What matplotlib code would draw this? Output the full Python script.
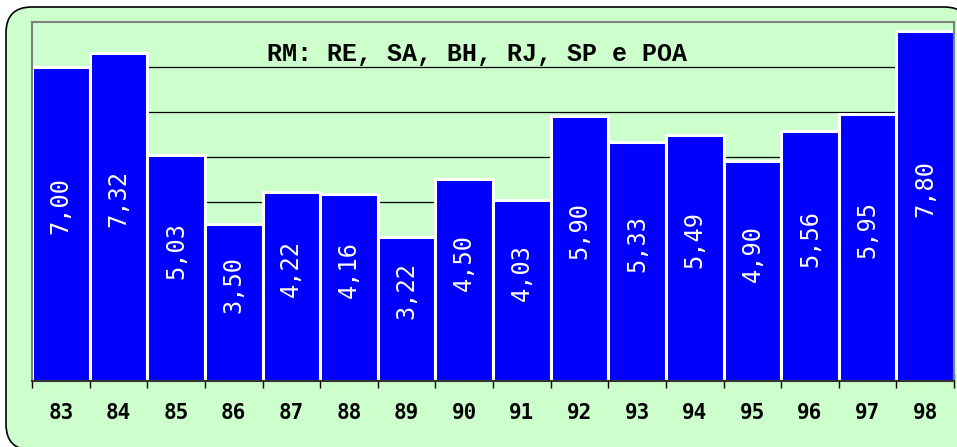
import matplotlib
matplotlib.use("Agg")
import matplotlib.pyplot as plt
from matplotlib.patches import FancyBboxPatch

# ── Data ──────────────────────────────────────────────────────────────────────
years  = ["83", "84", "85", "86", "87", "88", "89", "90",
          "91", "92", "93", "94", "95", "96", "97", "98"]
values = [7.00, 7.32, 5.03, 3.50, 4.22, 4.16, 3.22, 4.50,
          4.03, 5.90, 5.33, 5.49, 4.90, 5.56, 5.95, 7.80]
title  = "RM: RE, SA, BH, RJ, SP e POA"

BG    = "#CCFFCC"
BLUE  = "#0000FF"
W, H  = 957, 447

fig = plt.figure(figsize=(W / 100, H / 100), dpi=100)
fig.patch.set_facecolor("white")

# rounded green panel behind everything (runs off the right/bottom edge)
panel = FancyBboxPatch(
    (6 / W, -3 / H), 964 / W, 443 / H,
    boxstyle="round,pad=0,rounding_size=0.027",
    mutation_aspect=W / H,
    transform=fig.transFigure, facecolor=BG, edgecolor="black",
    linewidth=1.2, zorder=-10,
)
fig.patches.append(panel)

ax = fig.add_axes([32 / W, 66 / H, 922 / W, 359 / H])
ax.set_facecolor("none")

x = list(range(len(years)))
ax.bar(x, values, width=1.0, color=BLUE, edgecolor="white",
       linewidth=2.2, zorder=2)

# value labels, rotated, inside the bars
for xi, v in zip(x, values):
    ax.text(xi, v / 2 + 0.4, f"{v:.2f}".replace(".", ","),
            rotation=90, ha="center", va="center", color="white",
            fontsize=17, family="DejaVu Sans Mono", zorder=3)

ax.text(0.483, 7.28, title, transform=ax.get_yaxis_transform(),
        ha="center", va="center", fontsize=18, fontweight="bold",
        family="Liberation Mono", zorder=3)

ax.set_xlim(-0.5, len(years) - 0.5)
ax.set_ylim(0, 8)

# grid
ax.set_yticks(range(1, 8))
ax.yaxis.grid(True, color="black", linewidth=0.9)
ax.set_axisbelow(True)
ax.tick_params(axis="y", left=False, labelleft=False)

# x ticks at category boundaries, labels at centres
ax.set_xticks([i - 0.5 for i in range(len(years) + 1)])
ax.set_xticklabels([])
ax.tick_params(axis="x", which="major", direction="inout", length=10,
               width=1, color="black")
ax.set_xticks(x, minor=True)
ax.set_xticklabels(years, minor=True, fontsize=15, fontweight="bold",
                   family="DejaVu Sans Mono")
ax.tick_params(axis="x", which="minor", length=0, pad=16)

for side in ("top", "left", "right"):
    ax.spines[side].set_color("#808080")
    ax.spines[side].set_linewidth(1.5)
ax.spines["bottom"].set_color("#333333")
ax.spines["bottom"].set_linewidth(1.5)
ax.spines["bottom"].set_zorder(4)

fig.savefig("out.png", dpi=100)
